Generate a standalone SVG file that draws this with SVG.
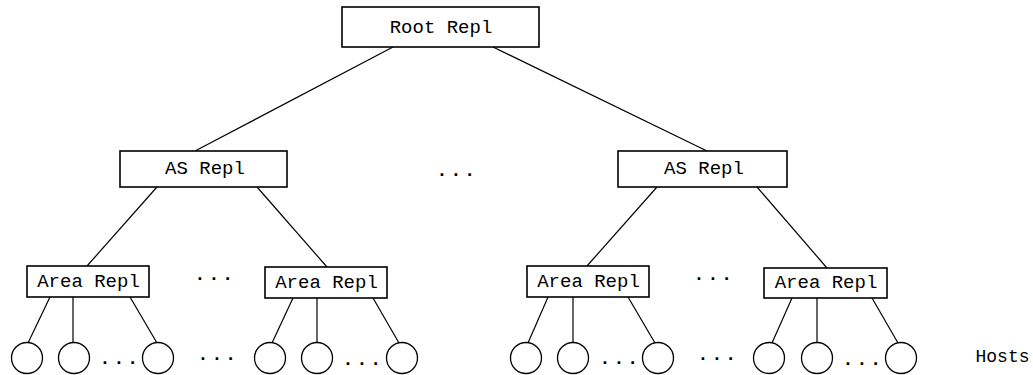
<svg xmlns="http://www.w3.org/2000/svg" width="1033" height="375" viewBox="0 0 1033 375">
<style>
.box{fill:#fff;stroke:#000;stroke-width:1.6}
.lbl{font-family:"Liberation Mono","Courier New",monospace;font-size:19px;fill:#000;text-anchor:middle}
.dots{font-family:"Liberation Mono","Courier New",monospace;font-size:18px;font-weight:bold;fill:#000;letter-spacing:3px}
.host{fill:#fff;stroke:#000;stroke-width:1.3}
.edge{stroke:#000;stroke-width:1.2;fill:none}
</style>
<rect width="1033" height="375" fill="#fff"/>
<g id="connectors">
<line class="edge" x1="393" y1="47" x2="195" y2="151"/>
<line class="edge" x1="493" y1="47" x2="707" y2="151"/>
<line class="edge" x1="157" y1="187" x2="87" y2="266"/>
<line class="edge" x1="257" y1="187" x2="327" y2="267"/>
<line class="edge" x1="657" y1="187" x2="587" y2="266"/>
<line class="edge" x1="757" y1="187" x2="827" y2="268"/>
<line class="edge" x1="50" y1="297" x2="28" y2="343"/>
<line class="edge" x1="73" y1="297" x2="73" y2="342.5"/>
<line class="edge" x1="130" y1="297" x2="157" y2="343"/>
<line class="edge" x1="293" y1="298" x2="272" y2="343"/>
<line class="edge" x1="317" y1="298" x2="317" y2="342.5"/>
<line class="edge" x1="373" y1="298" x2="399" y2="343"/>
<line class="edge" x1="548" y1="297" x2="528" y2="343"/>
<line class="edge" x1="573" y1="297" x2="573" y2="342.5"/>
<line class="edge" x1="628" y1="297" x2="655" y2="343"/>
<line class="edge" x1="792" y1="298" x2="772" y2="343"/>
<line class="edge" x1="817" y1="298" x2="817" y2="342.5"/>
<line class="edge" x1="872" y1="298" x2="898" y2="343"/>
</g>
<g id="root"><rect class="box" x="342" y="7" width="197" height="40"/><text class="lbl" x="441" y="33">Root Repl</text></g>
<g id="as-left"><rect class="box" x="120" y="151" width="167" height="36"/><text class="lbl" x="205" y="174">AS Repl</text></g>
<g id="as-right"><rect class="box" x="618" y="151" width="169" height="36"/><text class="lbl" x="704" y="174">AS Repl</text></g>
<g id="area1"><rect class="box" x="27" y="266" width="122" height="31"/><text class="lbl" x="88.5" y="287">Area Repl</text></g>
<g id="area2"><rect class="box" x="265" y="267" width="122" height="31"/><text class="lbl" x="326.5" y="288">Area Repl</text></g>
<g id="area3"><rect class="box" x="527" y="266" width="122" height="31"/><text class="lbl" x="588.5" y="287">Area Repl</text></g>
<g id="area4"><rect class="box" x="764" y="268" width="123" height="30"/><text class="lbl" x="826" y="288">Area Repl</text></g>
<g id="hosts1"><circle class="host" cx="27" cy="358" r="15.5"/><circle class="host" cx="74" cy="358" r="15.5"/><circle class="host" cx="158" cy="358" r="15.5"/></g>
<g id="hosts2"><circle class="host" cx="270" cy="358" r="15.5"/><circle class="host" cx="317" cy="358" r="15.5"/><circle class="host" cx="402" cy="358" r="15.5"/></g>
<g id="hosts3"><circle class="host" cx="526" cy="358" r="15.5"/><circle class="host" cx="573" cy="358" r="15.5"/><circle class="host" cx="658" cy="358" r="15.5"/></g>
<g id="hosts4"><circle class="host" cx="769" cy="358" r="15.5"/><circle class="host" cx="817" cy="358" r="15.5"/><circle class="host" cx="901" cy="358" r="15.5"/></g>
<g id="ellipses">
<text class="dots" x="436.6" y="175.5">...</text>
<text class="dots" x="194.6" y="280">...</text>
<text class="dots" x="693.6" y="280">...</text>
<text class="dots" x="197.6" y="360">...</text>
<text class="dots" x="697.6" y="360">...</text>
<text class="dots" x="99.6" y="364">...</text>
<text class="dots" x="342.6" y="365">...</text>
<text class="dots" x="599.6" y="364">...</text>
<text class="dots" x="842.6" y="365">...</text>
</g>
<g id="hosts-label"><text class="lbl" x="1002.5" y="362" style="font-size:18px">Hosts</text></g>
</svg>
